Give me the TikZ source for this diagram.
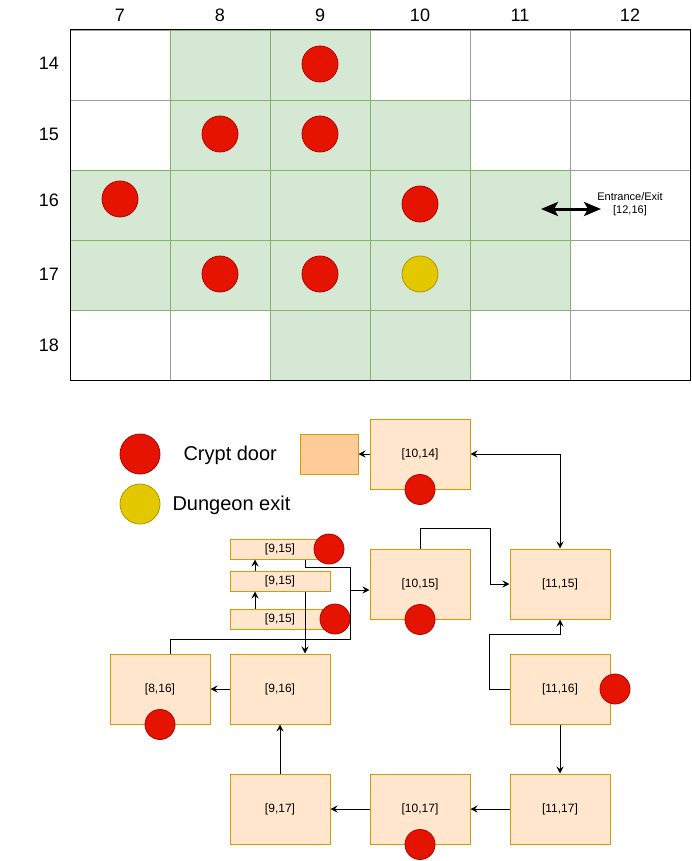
\documentclass[tikz,border=0pt]{standalone}
\usepackage{fontspec}
\setmainfont{Liberation Sans}
\usetikzlibrary{arrows.meta}
\definecolor{gfill}{HTML}{D5E8D4}
\definecolor{gline}{HTML}{82B366}
\definecolor{cgrey}{HTML}{9E9E9E}
\definecolor{ofill}{HTML}{FFE6CC}
\definecolor{oline}{HTML}{D79B00}
\definecolor{ofilltwo}{HTML}{FFCC99}
\definecolor{rfill}{HTML}{E51400}
\definecolor{rline}{HTML}{B20000}
\definecolor{yfill}{HTML}{E3C800}
\definecolor{yline}{HTML}{B09500}
\begin{document}
\begin{tikzpicture}[x=1pt,y=-1pt,
  room/.style={draw=oline,fill=ofill,line width=1pt,minimum width=100pt,minimum height=70pt,inner sep=0pt,font=\fontsize{12}{14}\selectfont},
  slim/.style={room,minimum height=20pt},
  door/.style={circle,draw=rline,fill=rfill,line width=0.8pt,minimum size=30pt,inner sep=0pt},
  bigdoor/.style={door,minimum size=36pt},
  exitdot/.style={circle,draw=yline,fill=yfill,line width=0.8pt,minimum size=36pt,inner sep=0pt},
  lbl/.style={font=\fontsize{18}{20}\selectfont},
  wcell/.style={draw=cgrey,fill=white,line width=0.8pt},
  gcell/.style={draw=gline,fill=gfill,line width=0.8pt},
  conn/.style={draw=black,line width=1pt},
  link/.style={conn,-{Stealth[length=7pt,width=7pt,inset=2.5pt]}},
]
\useasboundingbox (0,0) rectangle (692,861);
\fill[white] (0,0) rectangle (692,861);

% ---- grid ----
\foreach \c/\xa/\xb in {7/70/170,8/170/270,9/270/370,10/370/470,11/470/570,12/570/690}{
  \foreach \r/\ya/\yb in {14/30/100,15/100/170,16/170/240,17/240/310,18/310/380}{
    \draw[wcell] (\xa,\ya) rectangle (\xb,\yb);
  }
}
\foreach \xa/\ya in {170/30,270/30,170/100,270/100,370/100,70/170,170/170,270/170,370/170,470/170,70/240,170/240,270/240,370/240,470/240,270/310,370/310}{
  \draw[gcell] (\xa,\ya) rectangle ++(100,70);
}
\draw[black,line width=1pt] (70,30) rectangle (690,380);

\foreach \t/\x in {7/120,8/220,9/320,10/420,11/520,12/630}{
  \node[lbl] (col\t) at (\x,15) {\t};
}
\foreach \t/\y in {14/63,15/134,16/200,17/274,18/345}{
  \node[lbl] (row\t) at (49,\y) {\t};
}

\node[bigdoor] (g914) at (320,64) {};
\node[bigdoor] (g815) at (220,134) {};
\node[bigdoor] (g915) at (320,134) {};
\node[bigdoor] (g716) at (120,199) {};
\node[bigdoor] (g1016) at (420,204) {};
\node[bigdoor] (g817) at (220,274) {};
\node[bigdoor] (g917) at (320,274) {};
\node[exitdot] (g1017) at (420,274) {};

\coordinate (ea) at (541,209);
\coordinate (eb) at (601,209);
\draw[line width=3pt,{Stealth[length=17pt,width=14pt,inset=4pt]}-{Stealth[length=17pt,width=14pt,inset=4pt]}] (ea) -- (eb);
\node[font=\fontsize{11}{13}\selectfont,align=center] (entr) at (630,204) {Entrance/Exit\\{[12,16]}};

% ---- legend ----
\node[door,minimum size=40pt] (legr) at (140,454) {};
\node[exitdot,minimum size=40pt] (legy) at (140,504) {};
\node[anchor=west,font=\fontsize{20}{22}\selectfont] (legrt) at (180,455) {Crypt door};
\node[anchor=west,font=\fontsize{20}{22}\selectfont] (legyt) at (169,505) {Dungeon exit};

% ---- rooms ----
\node[draw=oline,fill=ofilltwo,line width=1pt,minimum width=58pt,minimum height=40pt,inner sep=0pt] (orng) at (329,454) {};
\node[room] (r1014) at (420,454) {[10,14]};
\node[slim] (t915) at (280,549) {[9,15]};
\node[slim] (m915) at (280,581) {[9,15]};
\node[slim] (b915) at (280,619) {[9,15]};
\node[room] (r1015) at (420,584) {[10,15]};
\node[room] (r1115) at (560,584) {[11,15]};
\node[room] (r816) at (160,689) {[8,16]};
\node[room] (r916) at (280,689) {[9,16]};
\node[room] (r1116) at (560,689) {[11,16]};
\node[room] (r917) at (280,809) {[9,17]};
\node[room] (r1017) at (420,809) {[10,17]};
\node[room] (r1117) at (560,809) {[11,17]};

\node[door] (d1014) at (r1014.south) {};
\node[door] (dt915) at (329,549) {};
\node[door] (db915) at (335,619) {};
\node[door] (d1015) at (r1015.south) {};
\node[door] (d816) at (r816.south) {};
\node[door] (d1116) at (615,689) {};
\node[door] (d1017) at (r1017.south) {};

% ---- connectors ----
\coordinate (j1) at (350,567);
\coordinate (j2) at (350,639);
\coordinate (j3) at (350,590);
\draw[link] (r1014.west) -- (orng.east);
\draw[link,{Stealth[length=7pt,width=7pt,inset=2.5pt]}-{Stealth[length=7pt,width=7pt,inset=2.5pt]}] (r1014.east) -| (r1115.north);
\draw[link] ([xshift=-25pt]b915.north) -- ([xshift=-25pt]m915.south);
\draw[link] ([xshift=-25pt]m915.north) -- ([xshift=-25pt]t915.south);
\draw[conn] ([xshift=25pt]t915.south) |- (j1) -- (j2) -| ([xshift=10pt]r816.north);
\draw[link] (j3) -- (j3 -| r1015.west);
\draw[link] ([xshift=25pt]m915.south) -- ([xshift=25pt]r916.north);
\draw[link] (r1015.north) -- ++(0,-20) -- ++(70,0) |- (r1115.west);
\draw[link] (r1116.west) -- ++(-20,0) -- ++(0,-55) -| (r1115.south);
\draw[link] (r916.west) -- (r816.east);
\draw[link] (r1116.south) -- (r1117.north);
\draw[link] (r1117.west) -- (r1017.east);
\draw[link] (r1017.west) -- (r917.east);
\draw[link] (r917.north) -- (r916.south);
\end{tikzpicture}
\end{document}
